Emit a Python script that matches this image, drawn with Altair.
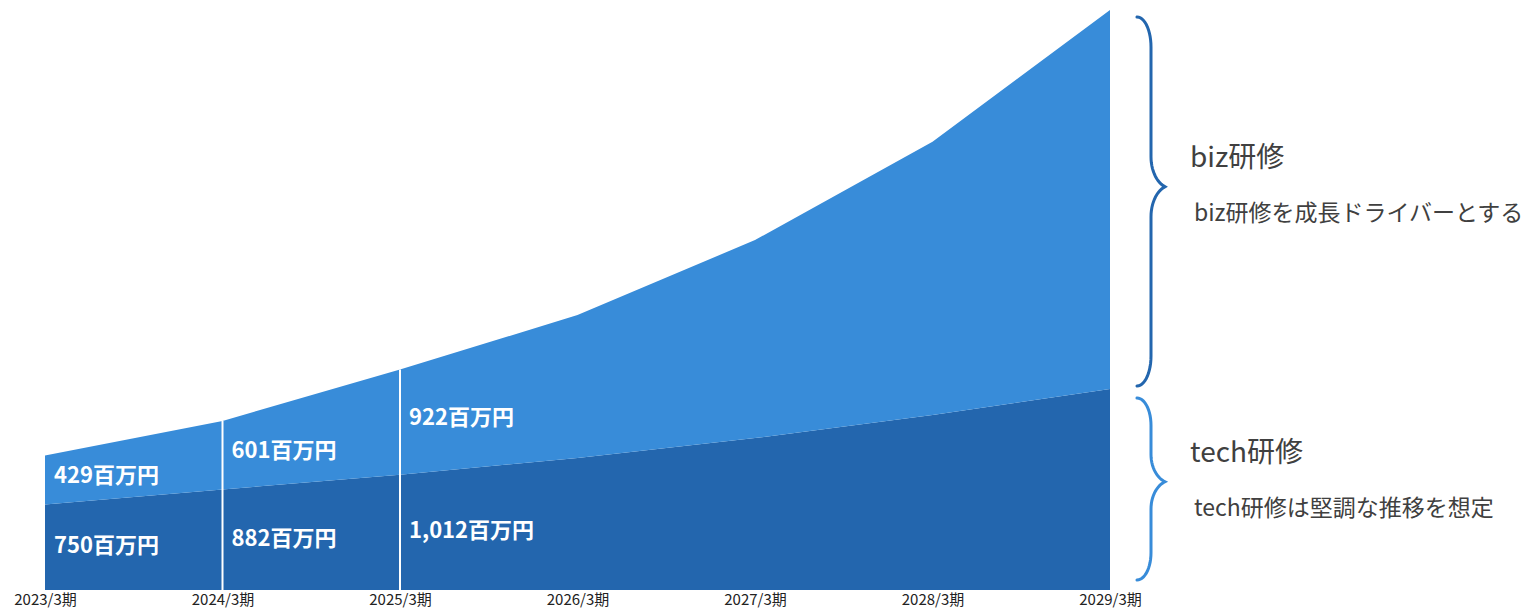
import altair as alt
import pandas as pd
import numpy as np

# ---------------- data ----------------
periods = ["2023/3期", "2024/3期", "2025/3期", "2026/3期", "2027/3期", "2028/3期", "2029/3期"]
tech = [750, 882, 1012, 1158, 1333, 1535, 1763]
biz = [429, 601, 922, 1254, 1737, 2397, 3325]
n_labeled = 3  # periods whose values are written inside the areas
series_names = ["tech研修", "biz研修"]
notes = ["tech研修は堅調な推移を想定", "biz研修を成長ドライバーとする"]

TECH_C = "#2366ae"
BIZ_C = "#388cd9"
TEXT_C = "#404040"
FONT = "Noto Sans CJK JP"

# ---------------- layout ----------------
W, H = 1065, 580
PAD_L, PAD_T = 45, 10
PAD_R = 1536 - PAD_L - W
PAD_B = 610 - PAD_T - H
n = len(periods)
xmax = n - 1
total = [t + b for t, b in zip(tech, biz)]
ymax = max(total)
PPU_X = W / xmax
PPU_Y = H / ymax

df = pd.DataFrame({
    "i": list(range(n)),
    "period": periods,
    "tech": tech,
    "biz": biz,
    "total": total,
})
df["zero"] = 0
df["tech_mid"] = df["tech"] / 2
df["biz_mid"] = df["tech"] + df["biz"] / 2
df["tech_lbl"] = [f"{v:,}百万円" for v in tech]
df["biz_lbl"] = [f"{v:,}百万円" for v in biz]

lab = df[df["i"] < n_labeled]
rules = df[(df["i"] >= 1) & (df["i"] < n_labeled)]

xscale = alt.Scale(domain=[0, xmax], nice=False, zero=False)
yscale = alt.Scale(domain=[0, ymax], nice=False)

label_expr = "[" + ",".join(f"'{p}'" for p in periods) + "][datum.value]"
xaxis = alt.Axis(values=list(range(n)), labelExpr=label_expr, title=None, domain=False,
                 ticks=False, grid=False, labelFlush=False, labelOverlap=False,
                 labelFontSize=15, labelColor="#222222", labelFont=FONT, labelPadding=2)

base = alt.Chart(df)

tech_area = base.mark_area(color=TECH_C, interpolate="linear").encode(
    x=alt.X("i:Q", scale=xscale, axis=xaxis),
    y=alt.Y("zero:Q", scale=yscale, axis=None),
    y2="tech:Q",
)
biz_area = base.mark_area(color=BIZ_C, interpolate="linear").encode(
    x="i:Q", y="tech:Q", y2="total:Q",
)
rule = alt.Chart(rules).mark_rule(color="white", strokeWidth=2).encode(
    x="i:Q", y="zero:Q", y2="total:Q",
)
tech_text = alt.Chart(lab).mark_text(
    align="left", baseline="middle", dx=9, dy=-1, color="white",
    font=FONT, fontSize=22, fontWeight="bold",
).encode(x="i:Q", y="tech_mid:Q", text="tech_lbl:N")
biz_text = alt.Chart(lab).mark_text(
    align="left", baseline="middle", dx=9, dy=-4, color="white",
    font=FONT, fontSize=22, fontWeight="bold",
).encode(x="i:Q", y="biz_mid:Q", text="biz_lbl:N")


# ---------------- braces ----------------
def brace(y_lo, y_hi, name):
    span_px = (y_hi - y_lo) * PPU_Y
    R = min(30.0, span_px * 0.15)
    tip = span_px * 0.46
    bot = span_px
    x_curl, x_v, x_tip = 27.0, 41.0, 55.0
    a = x_v - x_curl
    b = x_tip - x_v
    s = np.linspace(0, np.pi / 2, 14)
    m = 1.25
    u = np.linspace(0, m, 14)
    xs1 = x_curl + a * np.sin(s)
    ys1 = R * (1 - np.cos(s))
    xs2 = x_v + b * (1 - np.cos(u)) / (1 - np.cos(m))
    ys2 = tip - R + R * np.sin(u) / np.sin(m)
    ur = u[::-1]
    xs3 = x_v + b * (1 - np.cos(ur)) / (1 - np.cos(m))
    ys3 = tip + R - R * np.sin(ur) / np.sin(m)
    sr = s[::-1]
    xs4 = x_curl + a * np.sin(sr)
    ys4 = bot - R * (1 - np.cos(sr))
    xs = np.concatenate([xs1, xs2, xs3, xs4])
    ys = np.concatenate([ys1, ys2, ys3, ys4])
    return pd.DataFrame({
        "bx": xmax + xs / PPU_X,
        "by": y_hi - ys / PPU_Y,
        "k": np.arange(len(xs)),
        "brace": name,
    }), y_hi - tip / PPU_Y


t_last = tech[-1]
tot_last = total[-1]
biz_br, biz_tip = brace(t_last + 3 / PPU_Y, tot_last - 7 / PPU_Y, series_names[1])
tech_br, tech_tip = brace(10 / PPU_Y, t_last - 9 / PPU_Y, series_names[0])

biz_brace = alt.Chart(biz_br).mark_line(color=TECH_C, strokeWidth=3, strokeCap="round").encode(
    x="bx:Q", y="by:Q", order="k:Q")
tech_brace = alt.Chart(tech_br).mark_line(color=BIZ_C, strokeWidth=3, strokeCap="round").encode(
    x="bx:Q", y="by:Q", order="k:Q")

ann = pd.DataFrame({
    "ax": [xmax + 80 / PPU_X, xmax + 80 / PPU_X],
    "ay": [tech_tip, biz_tip],
    "title": series_names,
    "note": notes,
})
ann_title = alt.Chart(ann).mark_text(
    align="left", baseline="middle", dy=-28, color=TEXT_C, font=FONT, fontSize=28,
).encode(x="ax:Q", y="ay:Q", text="title:N")
ann_note = alt.Chart(ann).mark_text(
    align="left", baseline="middle", dx=4, dy=27, color=TEXT_C, font=FONT, fontSize=23,
).encode(x="ax:Q", y="ay:Q", text="note:N")

chart = alt.layer(
    tech_area, biz_area, rule, tech_text, biz_text, biz_brace, tech_brace, ann_title, ann_note
).properties(
    width=W, height=H,
    padding={"left": PAD_L, "top": PAD_T, "right": PAD_R, "bottom": PAD_B},
    autosize=alt.AutoSizeParams(type="none"),
    background="white",
).configure_view(stroke="transparent")

chart.save("out.html", embed_options={"renderer": "svg", "actions": False})
